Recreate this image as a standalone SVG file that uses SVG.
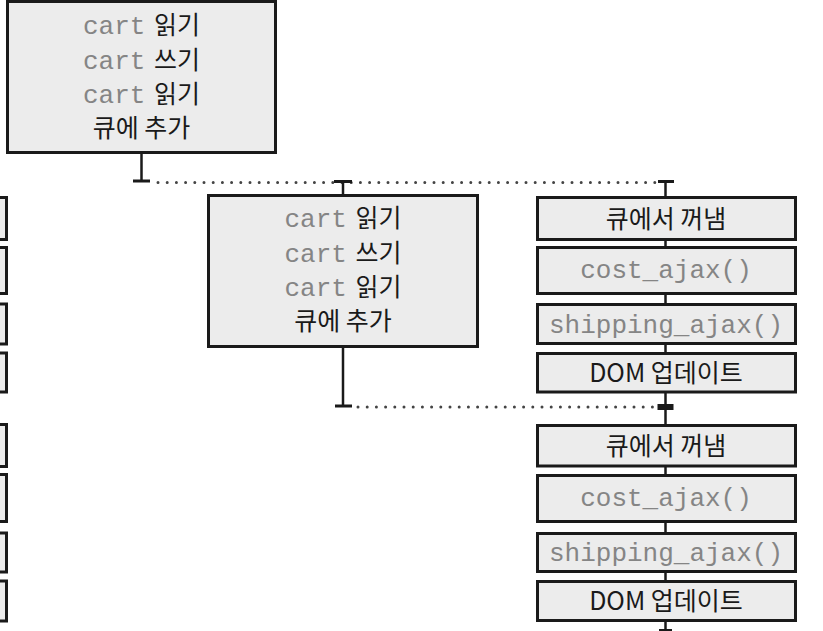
<svg xmlns="http://www.w3.org/2000/svg" width="823" height="631" viewBox="0 0 823 631">
<style>
.box{fill:#ececec;stroke:#1a1a1a;stroke-width:3}
.ln{stroke:#1a1a1a;stroke-width:2.5;fill:none}
.dot{stroke:#444;stroke-width:3;stroke-linecap:round;stroke-dasharray:0 9.2;fill:none}
.cap{fill:#1a1a1a}
text{text-anchor:middle}
.m{font-family:"Liberation Mono","DejaVu Sans Mono",monospace;font-size:26px;fill:#858585}
.k{font-family:"Noto Sans CJK KR","Noto Sans",sans-serif;font-size:25px;fill:#1a1a1a}
</style>
<rect width="823" height="631" fill="#ffffff"/>
<g id="connectors">
<line class="ln" x1="141.5" y1="0" x2="141.5" y2="2"/>
<line class="ln" x1="141.5" y1="153" x2="141.5" y2="181"/>
<rect class="cap" x="133" y="179.5" width="17" height="3"/>
<path class="dot" d="M158 182.5 H656"/>
<rect class="cap" x="334" y="180" width="18" height="3"/>
<line class="ln" x1="343" y1="181" x2="343" y2="195"/>
<rect class="cap" x="658" y="180" width="16" height="3"/>
<line class="ln" x1="665.5" y1="181" x2="665.5" y2="197"/>
<line class="ln" x1="665.5" y1="239" x2="665.5" y2="248"/>
<line class="ln" x1="665.5" y1="293" x2="665.5" y2="305"/>
<line class="ln" x1="665.5" y1="343" x2="665.5" y2="354"/>
<line class="ln" x1="343" y1="346" x2="343" y2="406"/>
<rect class="cap" x="335" y="404.5" width="17" height="3"/>
<path class="dot" d="M358 407 H656"/>
<line class="ln" x1="665.5" y1="392" x2="665.5" y2="426"/>
<rect class="cap" x="657.5" y="404" width="16" height="6"/>
<line class="ln" x1="665.5" y1="466" x2="665.5" y2="476"/>
<line class="ln" x1="665.5" y1="521" x2="665.5" y2="534"/>
<line class="ln" x1="665.5" y1="571" x2="665.5" y2="582"/>
<line class="ln" x1="665.5" y1="620" x2="665.5" y2="631"/>
<rect class="cap" x="659" y="629" width="13" height="2"/>
</g>
<g id="top-box">
<rect class="box" x="7.5" y="1.5" width="268" height="151"/>
<text x="141.5" y="34"><tspan class="m">cart</tspan><tspan class="k" dx="3"> 읽기</tspan></text>
<text x="141.5" y="68.5"><tspan class="m">cart</tspan><tspan class="k" dx="3"> 쓰기</tspan></text>
<text x="141.5" y="103"><tspan class="m">cart</tspan><tspan class="k" dx="3"> 읽기</tspan></text>
<text class="k" x="141.5" y="137">큐에 추가</text>
</g>
<g id="middle-box">
<rect class="box" x="208.5" y="195.5" width="269" height="151"/>
<text x="343" y="227"><tspan class="m">cart</tspan><tspan class="k" dx="3"> 읽기</tspan></text>
<text x="343" y="261.5"><tspan class="m">cart</tspan><tspan class="k" dx="3"> 쓰기</tspan></text>
<text x="343" y="296"><tspan class="m">cart</tspan><tspan class="k" dx="3"> 읽기</tspan></text>
<text class="k" x="343" y="330">큐에 추가</text>
</g>
<g id="left-column">
<rect class="box" x="-50" y="197.5" width="56.5" height="42"/>
<rect class="box" x="-50" y="247.5" width="56.5" height="46"/>
<rect class="box" x="-50" y="304" width="56.5" height="40"/>
<rect class="box" x="-50" y="353" width="56.5" height="39"/>
<rect class="box" x="-50" y="424.5" width="56.5" height="42"/>
<rect class="box" x="-50" y="474.5" width="56.5" height="47"/>
<rect class="box" x="-50" y="533" width="56.5" height="39"/>
<rect class="box" x="-50" y="581" width="56.5" height="40"/>
</g>
<g id="dequeue-1">
<rect class="box" x="537.5" y="197.5" width="258" height="42"/>
<text class="k" x="666" y="228">큐에서 꺼냄</text>
</g>
<g id="cost-ajax-1">
<rect class="box" x="537.5" y="247.5" width="258" height="46"/>
<text class="m" x="666" y="278">cost_ajax()</text>
</g>
<g id="shipping-ajax-1">
<rect class="box" x="537.5" y="304.5" width="258" height="39"/>
<text class="m" x="666" y="333">shipping_ajax()</text>
</g>
<g id="dom-update-1">
<rect class="box" x="537.5" y="353.5" width="258" height="38.5"/>
<text class="k" x="666" y="382">DOM 업데이트</text>
</g>
<g id="dequeue-2">
<rect class="box" x="537.5" y="425.5" width="258" height="40.5"/>
<text class="k" x="666" y="455">큐에서 꺼냄</text>
</g>
<g id="cost-ajax-2">
<rect class="box" x="537.5" y="475.5" width="258" height="46"/>
<text class="m" x="666" y="506">cost_ajax()</text>
</g>
<g id="shipping-ajax-2">
<rect class="box" x="537.5" y="533.5" width="258" height="38"/>
<text class="m" x="666" y="561">shipping_ajax()</text>
</g>
<g id="dom-update-2">
<rect class="box" x="537.5" y="581.5" width="258" height="39"/>
<text class="k" x="666" y="610">DOM 업데이트</text>
</g>
</svg>
